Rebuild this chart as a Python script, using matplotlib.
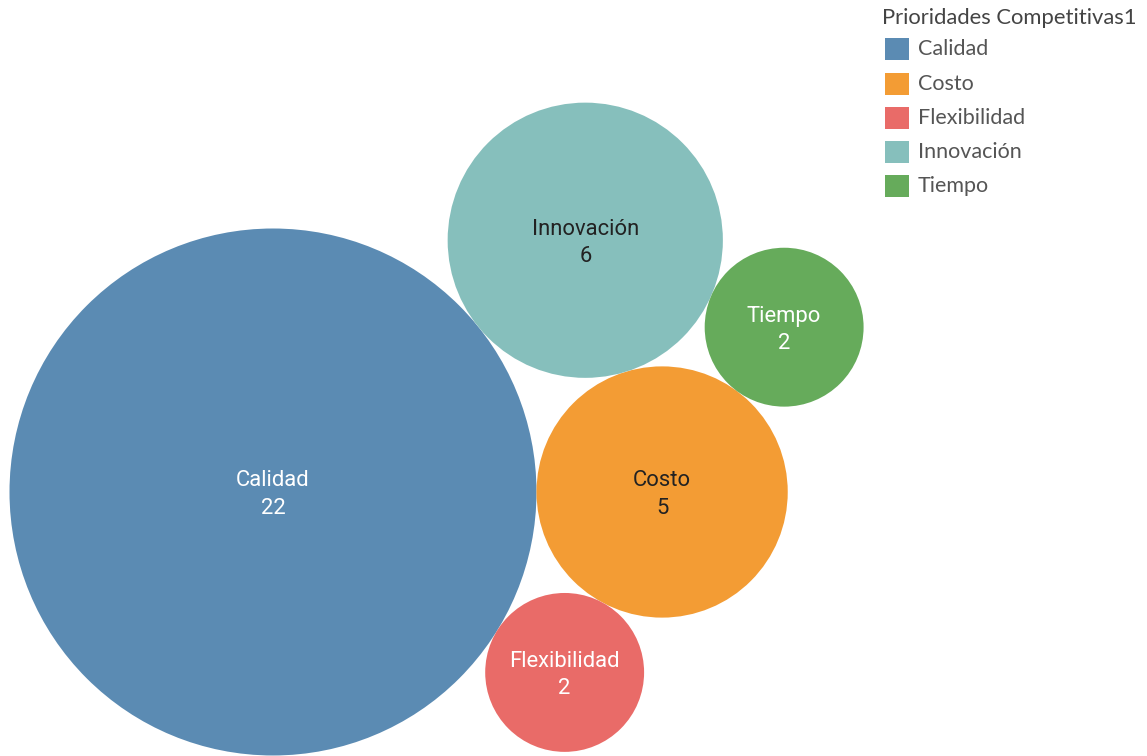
import numpy as np
import matplotlib
matplotlib.use("Agg")
import matplotlib.pyplot as plt
from matplotlib.patches import Circle, Rectangle

# Data
categories = ["Calidad", "Costo", "Flexibilidad", "Innovación", "Tiempo"]
counts = [22, 5, 2, 6, 2]
colors = ["#5B8BB3", "#F39C34", "#E96B68", "#86BFBC", "#66AB5B"]
label_colors = ["white", "#222222", "white", "#222222", "white"]
legend_title = "Prioridades Competitivas1"

W, H, DPI = 1147, 756, 100

# bubble radii (area proportional to count)
radii = {c: np.sqrt(v) for c, v in zip(categories, counts)}


def tangent_to(ca, ra, cb, rb, r, side):
    """Center of a circle of radius r touching circles a and b."""
    ca, cb = np.asarray(ca, float), np.asarray(cb, float)
    d = np.linalg.norm(cb - ca)
    da, db = ra + r, rb + r
    x = (da ** 2 - db ** 2 + d ** 2) / (2 * d)
    h = np.sqrt(max(da ** 2 - x ** 2, 0.0))
    u = (cb - ca) / d
    n = np.array([-u[1], u[0]])
    return ca + x * u + side * h * n


# packing: largest bubble at the origin, the rest placed against neighbours
centers = {}
centers["Calidad"] = np.array([0.0, 0.0])
centers["Costo"] = np.array([radii["Calidad"] + radii["Costo"], 0.0])
packing = [
    ("Innovación", "Calidad", "Costo", +1),
    ("Tiempo", "Costo", "Innovación", -1),
    ("Flexibilidad", "Calidad", "Costo", -1),
]
for name, a, b, side in packing:
    centers[name] = tangent_to(centers[a], radii[a], centers[b], radii[b],
                               radii[name], side)

fig = plt.figure(figsize=(W / DPI, H / DPI), dpi=DPI)
ax = fig.add_axes([0, 0, 1, 1])
ax.set_axis_off()

# view: pixels per unit radius and anchor of the main bubble
k = 263.5 / radii["Calidad"]
ox, oy = 273, 492
ax.set_xlim(-ox / k, (W - ox) / k)
ax.set_ylim(-(H - oy) / k, oy / k)
ax.set_aspect("equal")

lab_font = ["Roboto", "DejaVu Sans"]
for cat, val, col, tcol in zip(categories, counts, colors, label_colors):
    cx, cy = centers[cat]
    ax.add_patch(Circle((cx, cy), radii[cat], facecolor=col, edgecolor="none"))
    ax.text(cx, cy + 11 / k, cat, ha="center", va="center", color=tcol,
            fontsize=15.8, family=lab_font)
    ax.text(cx, cy - 16 / k, str(val), ha="center", va="center", color=tcol,
            fontsize=15.8, family=lab_font)

# legend
leg_font = ["Lato", "DejaVu Sans"]


def fx(px):
    return px / W


def fy(py):
    return 1 - py / H


fig.text(fx(882), fy(18), legend_title, ha="left", va="center",
         fontsize=15.8, color="#444444", family=leg_font)
row_y = [49, 84, 118, 152, 186]
for cat, col, yy in zip(categories, colors, row_y):
    fig.add_artist(Rectangle((fx(885), fy(yy + 11)), 24 / W, 22 / H,
                             transform=fig.transFigure, facecolor=col,
                             edgecolor="none"))
    fig.text(fx(918), fy(yy), cat, ha="left", va="center",
             fontsize=15.5, color="#555555", family=leg_font)

fig.savefig("out.png", dpi=DPI, facecolor="white")
